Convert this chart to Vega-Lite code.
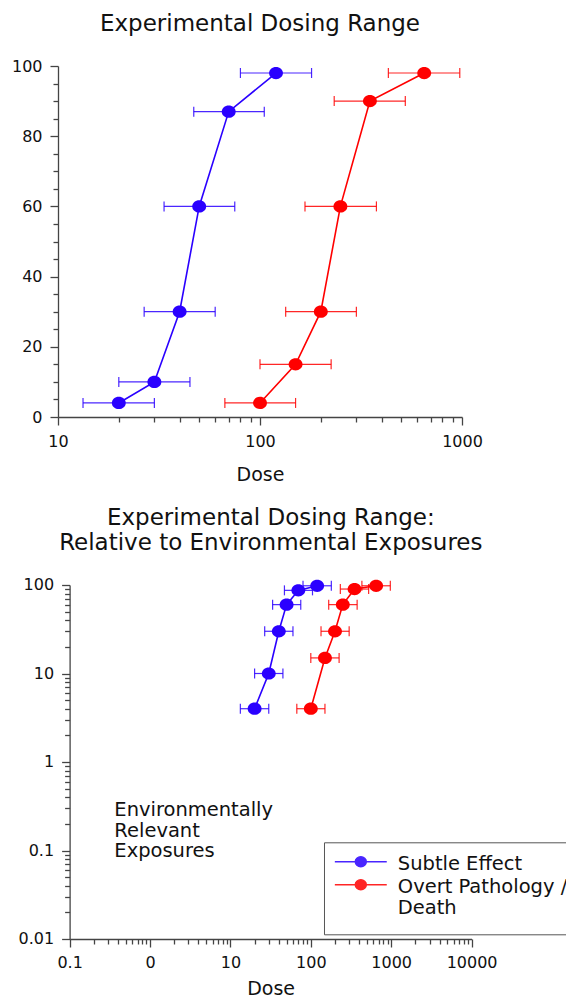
{
  "$schema": "https://vega.github.io/schema/vega-lite/v6.json",
  "background": "white",
  "padding": {"left": 11, "top": 13, "right": -17.7, "bottom": -3},
  "autosize": {"type": "pad"},
  "config": {
    "view": {"stroke": null},
    "font": "DejaVu Sans",
    "axis": {
      "grid": false, "domainColor": "#444", "tickColor": "#444", "domainWidth": 1.3, "tickWidth": 1.3,
      "labelColor": "#111", "titleColor": "#111", "labelFont": "DejaVu Sans", "titleFont": "DejaVu Sans",
      "labelFontSize": 16, "titleFontSize": 19, "titleFontWeight": "normal",
      "tickSize": 8, "labelPadding": 8, "labelFlush": false, "labelOverlap": false
    },
    "title": {"font": "DejaVu Sans", "fontSize": 23, "fontWeight": "normal", "anchor": "middle", "frame": "group", "offset": 22, "lineHeight": 24.5, "color": "#111"}
  },
  "datasets": {
    "dose": [
      {"series": "Subtle Effect", "dose": 20, "lo": 13.3, "hi": 30, "effect": 4},
      {"series": "Subtle Effect", "dose": 30, "lo": 20, "hi": 45, "effect": 10},
      {"series": "Subtle Effect", "dose": 40, "lo": 26.7, "hi": 60, "effect": 30},
      {"series": "Subtle Effect", "dose": 50, "lo": 33.5, "hi": 75, "effect": 60},
      {"series": "Subtle Effect", "dose": 70, "lo": 47, "hi": 105, "effect": 87},
      {"series": "Subtle Effect", "dose": 120, "lo": 80, "hi": 180, "effect": 98},
      {"series": "Overt Pathology / Death", "dose": 100, "lo": 67, "hi": 150, "effect": 4},
      {"series": "Overt Pathology / Death", "dose": 150, "lo": 100, "hi": 225, "effect": 15},
      {"series": "Overt Pathology / Death", "dose": 200, "lo": 134, "hi": 300, "effect": 30},
      {"series": "Overt Pathology / Death", "dose": 250, "lo": 167, "hi": 377, "effect": 60},
      {"series": "Overt Pathology / Death", "dose": 350, "lo": 233, "hi": 524, "effect": 90},
      {"series": "Overt Pathology / Death", "dose": 650, "lo": 432, "hi": 975, "effect": 98}
    ],
    "note": [
      {"text": "Environmentally\nRelevant\nExposures", "x": 0.36, "y": 0.245}
    ]
  },
  "concat": [
    {
      "width": 404,
      "height": 351,
      "title": {"text": "Experimental Dosing Range"},
      "data": {"name": "dose"},
      "resolve": {"axis": {"x": "independent", "y": "independent"}},
      "layer": [
        {
          "mark": {"type": "rule", "strokeWidth": 1.2, "opacity": 0.85},
          "encoding": {
            "x": {"field": "lo", "type": "quantitative", "scale": {"type": "log", "domain": [10, 1000], "nice": false},
                  "axis": {"title": "Dose", "orient": "bottom", "values": [10, 100, 1000], "format": "d", "titlePadding": 16.5}},
            "x2": {"field": "hi"},
            "y": {"field": "effect", "type": "quantitative", "scale": {"type": "linear", "domain": [0, 100], "nice": false},
                  "axis": {"title": null, "orient": "left", "values": [0, 20, 40, 60, 80, 100]}},
            "color": {"field": "series", "type": "nominal", "scale": {"domain": ["Subtle Effect", "Overt Pathology / Death"], "range": ["#2a00ff", "#ff0000"]}, "legend": null}
          }
        },
        {
          "mark": {"type": "tick", "orient": "vertical", "size": 10, "thickness": 1.2, "opacity": 0.85},
          "encoding": {
            "x": {"field": "lo", "type": "quantitative", "scale": {"type": "log", "domain": [10, 1000], "nice": false},
                  "axis": {"title": null, "orient": "bottom", "values": [20, 30, 40, 50, 60, 70, 80, 90, 200, 300, 400, 500, 600, 700, 800, 900], "labels": false, "domain": false, "tickSize": 5, "minExtent": 0, "maxExtent": 0}},
            "y": {"field": "effect", "type": "quantitative", "scale": {"type": "linear", "domain": [0, 100], "nice": false},
                  "axis": {"title": null, "orient": "left", "values": [5, 10, 15, 25, 30, 35, 45, 50, 55, 65, 70, 75, 85, 90, 95], "labels": false, "domain": false, "tickSize": 5, "minExtent": 0, "maxExtent": 0}},
            "color": {"field": "series", "type": "nominal", "scale": {"domain": ["Subtle Effect", "Overt Pathology / Death"], "range": ["#2a00ff", "#ff0000"]}, "legend": null}
          }
        },
        {
          "mark": {"type": "tick", "orient": "vertical", "size": 10, "thickness": 1.2, "opacity": 0.85},
          "encoding": {
            "x": {"field": "hi", "type": "quantitative", "scale": {"type": "log", "domain": [10, 1000], "nice": false}, "axis": null},
            "y": {"field": "effect", "type": "quantitative", "scale": {"type": "linear", "domain": [0, 100], "nice": false}, "axis": null},
            "color": {"field": "series", "type": "nominal", "scale": {"domain": ["Subtle Effect", "Overt Pathology / Death"], "range": ["#2a00ff", "#ff0000"]}, "legend": null}
          }
        },
        {
          "mark": {"type": "line", "strokeWidth": 1.6},
          "encoding": {
            "x": {"field": "dose", "type": "quantitative", "scale": {"type": "log", "domain": [10, 1000], "nice": false}, "axis": null},
            "y": {"field": "effect", "type": "quantitative", "scale": {"type": "linear", "domain": [0, 100], "nice": false}, "axis": null},
            "color": {"field": "series", "type": "nominal", "scale": {"domain": ["Subtle Effect", "Overt Pathology / Death"], "range": ["#2a00ff", "#ff0000"]}, "legend": null}
          }
        },
        {
          "mark": {"type": "point", "filled": true, "opacity": 1, "size": 150, "shape": "M-1.136,0A1.136,1,0,1,0,1.136,0A1.136,1,0,1,0,-1.136,0Z"},
          "encoding": {
            "x": {"field": "dose", "type": "quantitative", "scale": {"type": "log", "domain": [10, 1000], "nice": false}, "axis": null},
            "y": {"field": "effect", "type": "quantitative", "scale": {"type": "linear", "domain": [0, 100], "nice": false}, "axis": null},
            "color": {"field": "series", "type": "nominal", "scale": {"domain": ["Subtle Effect", "Overt Pathology / Death"], "range": ["#2a00ff", "#ff0000"]}, "legend": null}
          }
        }
      ]
    },
    {
      "width": 413.6,
      "height": 354,
      "title": {"text": ["Experimental Dosing Range:", "Relative to Environmental Exposures"], "dx": 6},
      "data": {"name": "dose"},
      "resolve": {"axis": {"x": "independent", "y": "independent"}},
      "layer": [
        {
          "mark": {"type": "rule", "strokeWidth": 1.2, "opacity": 0.85},
          "encoding": {
            "x": {"field": "lo", "type": "quantitative", "scale": {"type": "log", "domain": [0.1, 10000], "nice": false, "range": [11.6, 413.6]},
                  "axis": {"title": "Dose", "orient": "bottom", "values": [0.1, 1, 10, 100, 1000, 10000], "format": "~g", "labelExpr": "datum.value == 1 ? '0' : datum.label", "titlePadding": 9}},
            "x2": {"field": "hi"},
            "y": {"field": "effect", "type": "quantitative", "scale": {"type": "log", "domain": [0.01, 100], "nice": false},
                  "axis": {"title": null, "orient": "left", "offset": -11.6, "values": [0.01, 0.1, 1, 10, 100], "format": "~g"}},
            "color": {"field": "series", "type": "nominal", "scale": {"domain": ["Subtle Effect", "Overt Pathology / Death"], "range": ["#2a00ff", "#ff0000"]},
                      "legend": {
                        "orient": "none", "legendX": 266, "legendY": 257.3, "title": null,
                        "strokeColor": "#555", "padding": 15.7,
                        "labelFont": "DejaVu Sans", "labelFontSize": 19.5, "labelColor": "#111", "labelLimit": 300,
                        "labelBaseline": "alphabetic", "labelOffset": 25, "symbolOffset": 9.1, "rowPadding": 2,
                        "symbolType": "M-2.36,-0.755H2.36M-0.5,-0.755A0.5,0.45,0,1,0,0.5,-0.755A0.5,0.45,0,1,0,-0.5,-0.755Z",
                        "symbolSize": 484, "symbolStrokeWidth": 1.5,
                        "labelExpr": "datum.label == 'Overt Pathology / Death' ? ['Overt Pathology /', 'Death'] : datum.label",
                        "encode": {
                          "labels": {"lineHeight": {"value": 21}}
                        }
                      }}
          }
        },
        {
          "mark": {"type": "tick", "orient": "vertical", "size": 10, "thickness": 1.2, "opacity": 0.85},
          "encoding": {
            "x": {"field": "lo", "type": "quantitative", "scale": {"type": "log", "domain": [0.1, 10000], "nice": false, "range": [11.6, 413.6]},
                  "axis": {"title": null, "orient": "bottom", "values": [0.2, 0.3, 0.4, 0.5, 0.6, 0.7, 0.8, 0.9, 2, 3, 4, 5, 6, 7, 8, 9, 20, 30, 40, 50, 60, 70, 80, 90, 200, 300, 400, 500, 600, 700, 800, 900, 2000, 3000, 4000, 5000, 6000, 7000, 8000, 9000], "labels": false, "domain": false, "tickSize": 5, "minExtent": 0, "maxExtent": 0}},
            "y": {"field": "effect", "type": "quantitative", "scale": {"type": "log", "domain": [0.01, 100], "nice": false},
                  "axis": {"title": null, "orient": "left", "offset": -11.6, "values": [0.02, 0.03, 0.04, 0.05, 0.06, 0.07, 0.08, 0.09, 0.2, 0.3, 0.4, 0.5, 0.6, 0.7, 0.8, 0.9, 2, 3, 4, 5, 6, 7, 8, 9, 20, 30, 40, 50, 60, 70, 80, 90], "labels": false, "domain": false, "tickSize": 5, "minExtent": 0, "maxExtent": 0}},
            "color": {"field": "series", "type": "nominal", "scale": {"domain": ["Subtle Effect", "Overt Pathology / Death"], "range": ["#2a00ff", "#ff0000"]}}
          }
        },
        {
          "mark": {"type": "tick", "orient": "vertical", "size": 10, "thickness": 1.2, "opacity": 0.85},
          "encoding": {
            "x": {"field": "hi", "type": "quantitative", "scale": {"type": "log", "domain": [0.1, 10000], "nice": false, "range": [11.6, 413.6]}, "axis": null},
            "y": {"field": "effect", "type": "quantitative", "scale": {"type": "log", "domain": [0.01, 100], "nice": false}, "axis": null},
            "color": {"field": "series", "type": "nominal", "scale": {"domain": ["Subtle Effect", "Overt Pathology / Death"], "range": ["#2a00ff", "#ff0000"]}}
          }
        },
        {
          "mark": {"type": "line", "strokeWidth": 1.6},
          "encoding": {
            "x": {"field": "dose", "type": "quantitative", "scale": {"type": "log", "domain": [0.1, 10000], "nice": false, "range": [11.6, 413.6]}, "axis": null},
            "y": {"field": "effect", "type": "quantitative", "scale": {"type": "log", "domain": [0.01, 100], "nice": false}, "axis": null},
            "color": {"field": "series", "type": "nominal", "scale": {"domain": ["Subtle Effect", "Overt Pathology / Death"], "range": ["#2a00ff", "#ff0000"]}}
          }
        },
        {
          "mark": {"type": "point", "filled": true, "opacity": 1, "size": 150, "shape": "M-1.136,0A1.136,1,0,1,0,1.136,0A1.136,1,0,1,0,-1.136,0Z"},
          "encoding": {
            "x": {"field": "dose", "type": "quantitative", "scale": {"type": "log", "domain": [0.1, 10000], "nice": false, "range": [11.6, 413.6]}, "axis": null},
            "y": {"field": "effect", "type": "quantitative", "scale": {"type": "log", "domain": [0.01, 100], "nice": false}, "axis": null},
            "color": {"field": "series", "type": "nominal", "scale": {"domain": ["Subtle Effect", "Overt Pathology / Death"], "range": ["#2a00ff", "#ff0000"]}}
          }
        },
        {
          "data": {"name": "note"},
          "mark": {"type": "text", "align": "left", "baseline": "alphabetic", "fontSize": 19.5, "lineBreak": "\n", "lineHeight": 20.5, "color": "#111", "font": "DejaVu Sans"},
          "encoding": {
            "x": {"field": "x", "type": "quantitative", "scale": {"type": "log", "domain": [0.1, 10000], "nice": false, "range": [11.6, 413.6]}, "axis": null},
            "y": {"field": "y", "type": "quantitative", "scale": {"type": "log", "domain": [0.01, 100], "nice": false}, "axis": null},
            "text": {"field": "text"}
          }
        }
      ]
    }
  ],
  "columns": 1,
  "spacing": 22,
  "resolve": {"scale": {"x": "independent", "y": "independent", "color": "independent"}}
}
